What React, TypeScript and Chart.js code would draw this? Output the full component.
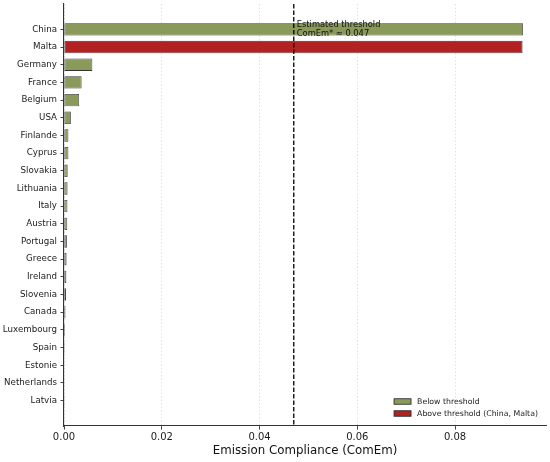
import React, { useEffect, useRef } from "react";
import { Chart, registerables } from "chart.js";

Chart.register(...registerables);

const countries = [
  "China", "Malta", "Germany", "France", "Belgium", "USA", "Finlande", "Cyprus",
  "Slovakia", "Lithuania", "Italy", "Austria", "Portugal", "Greece", "Ireland",
  "Slovenia", "Canada", "Luxembourg", "Spain", "Estonie", "Netherlands", "Latvia",
];
const comEm = [
  0.0939, 0.0938, 0.0058, 0.0036, 0.0031, 0.0014, 0.0009, 0.0009,
  0.00075, 0.00072, 0.0007, 0.00066, 0.0006, 0.00052, 0.00048,
  0.0004, 0.0003, 0.0002, 0.00015, 0.0001, 0.00006, 0.00003,
];
// group of each bar as coloured in the reference: 0 = below, 1 = above
const barGroup = [0, 1, 0, 0, 0, 0, 0, 0, 0, 0, 0, 0, 0, 0, 0, 0, 0, 0, 0, 0, 0, 0];
const threshold = 0.047;
const xTickValues = [0, 0.02, 0.04, 0.06, 0.08];
const legendLabels = ["Below threshold", "Above threshold (China, Malta)"];
const groupColors = ["#8a9a5b", "#b22222"];
const FONT = "'DejaVu Sans', sans-serif";

export default function App() {
  const ref = useRef<HTMLCanvasElement | null>(null);

  useEffect(() => {
    document.body.style.margin = "0";
    const canvas = ref.current;
    if (!canvas) return;

    const thresholdPlugin = {
      id: "thresholdPlugin",
      afterDatasetsDraw(chart: any) {
        const { ctx, chartArea, scales } = chart;
        const x = scales.x.getPixelForValue(threshold);
        ctx.save();
        ctx.strokeStyle = "#000";
        ctx.lineWidth = 1.3;
        ctx.setLineDash([4.5, 2]);
        ctx.beginPath();
        ctx.moveTo(x, chartArea.top);
        ctx.lineTo(x, chartArea.bottom);
        ctx.stroke();
        ctx.setLineDash([]);
        const yc = scales.y.getPixelForValue(0);
        ctx.fillStyle = "#111";
        ctx.font = `8.3px ${FONT}`;
        ctx.textAlign = "left";
        ctx.textBaseline = "alphabetic";
        ctx.fillText("Estimated threshold", x + 3, yc - 2.3);
        ctx.fillText("ComEm* \u2248 " + threshold.toFixed(3), x + 3, yc + 6.8);
        ctx.restore();
      },
      afterDraw(chart: any) {
        const { ctx, chartArea } = chart;
        ctx.save();
        ctx.font = `7.8px ${FONT}`;
        const maxW = Math.max(...legendLabels.map((t) => ctx.measureText(t).width));
        const textX = chartArea.right - 8 - maxW;
        const boxW = 17;
        const boxH = 5.5;
        const boxX = textX - 6 - boxW;
        legendLabels.forEach((t, i) => {
          const yc = chartArea.bottom - 12.5 - 12 * (legendLabels.length - 1 - i);
          ctx.fillStyle = groupColors[i];
          ctx.fillRect(boxX, yc - boxH / 2, boxW, boxH);
          ctx.strokeStyle = "#222";
          ctx.lineWidth = 0.8;
          ctx.strokeRect(boxX, yc - boxH / 2, boxW, boxH);
          ctx.fillStyle = "#222";
          ctx.textAlign = "left";
          ctx.textBaseline = "middle";
          ctx.fillText(t, textX, yc);
        });
        ctx.restore();
      },
    };

    const data = countries.map((c, i) => ({ x: comEm[i], y: i }));
    const colors = barGroup.map((g) => groupColors[g]);
    const maxX = Math.max(...comEm) * 1.05;

    const chart = new Chart(canvas, {
      type: "bar",
      data: {
        datasets: [
          {
            data: data as any,
            backgroundColor: colors,
            borderColor: "#333",
            borderWidth: 0.8,
            borderSkipped: false,
            barPercentage: 0.7,
            categoryPercentage: 1,
          },
        ],
      },
      options: {
        indexAxis: "y",
        animation: false,
        responsive: false,
        layout: { padding: { top: 4, right: 4, left: 0, bottom: 0 } },
        plugins: { legend: { display: false }, tooltip: { enabled: false } },
        scales: {
          x: {
            type: "linear",
            min: 0,
            max: maxX,
            offset: false,
            afterBuildTicks: (axis: any) => {
              axis.ticks = xTickValues.map((v) => ({ value: v }));
            },
            afterFit: (axis: any) => {
              axis.height = 36;
              axis.paddingLeft = 0;
              axis.paddingRight = 0;
            },
            ticks: {
              callback: (v: any) => Number(v).toFixed(2),
              font: { family: FONT, size: 10 },
              color: "#1a1a1a",
              padding: 2,
              maxRotation: 0,
              autoSkip: false,
            },
            grid: {
              offset: false,
              color: "#dcdcdc",
              lineWidth: 0.8,
              drawTicks: true,
              tickLength: 3.5,
              tickColor: "#444",
              tickWidth: 1,
            },
            border: { display: true, color: "#333", width: 1.1, dash: [1.5, 2] },
            title: {
              display: true,
              text: "Emission Compliance (ComEm)",
              font: { family: FONT, size: 11.8 },
              color: "#111",
              padding: { top: 0, bottom: 4 },
            },
          },
          y: {
            type: "linear",
            reverse: true,
            offset: false,
            min: -1.435,
            max: countries.length - 1 + 1.435,
            afterBuildTicks: (axis: any) => {
              axis.ticks = countries.map((_, i) => ({ value: i }));
            },
            afterFit: (axis: any) => {
              axis.width = 64;
              axis.paddingTop = 0;
              axis.paddingBottom = 0;
            },
            ticks: {
              callback: (v: any) => countries[Number(v)] ?? "",
              font: { family: FONT, size: 8.7 },
              color: "#1a1a1a",
              padding: 3.5,
              autoSkip: false,
            },
            grid: {
              offset: false,
              drawOnChartArea: false,
              drawTicks: true,
              tickLength: 3.5,
              tickColor: "#444",
              tickWidth: 1,
            },
            border: { display: true, color: "#333", width: 1.1 },
          },
        },
      },
      plugins: [thresholdPlugin],
    } as any);

    return () => chart.destroy();
  }, []);

  return (
    <div style={{ width: 550, height: 462 }}>
      <canvas ref={ref} width={550} height={462} style={{ display: "block" }} />
    </div>
  );
}
